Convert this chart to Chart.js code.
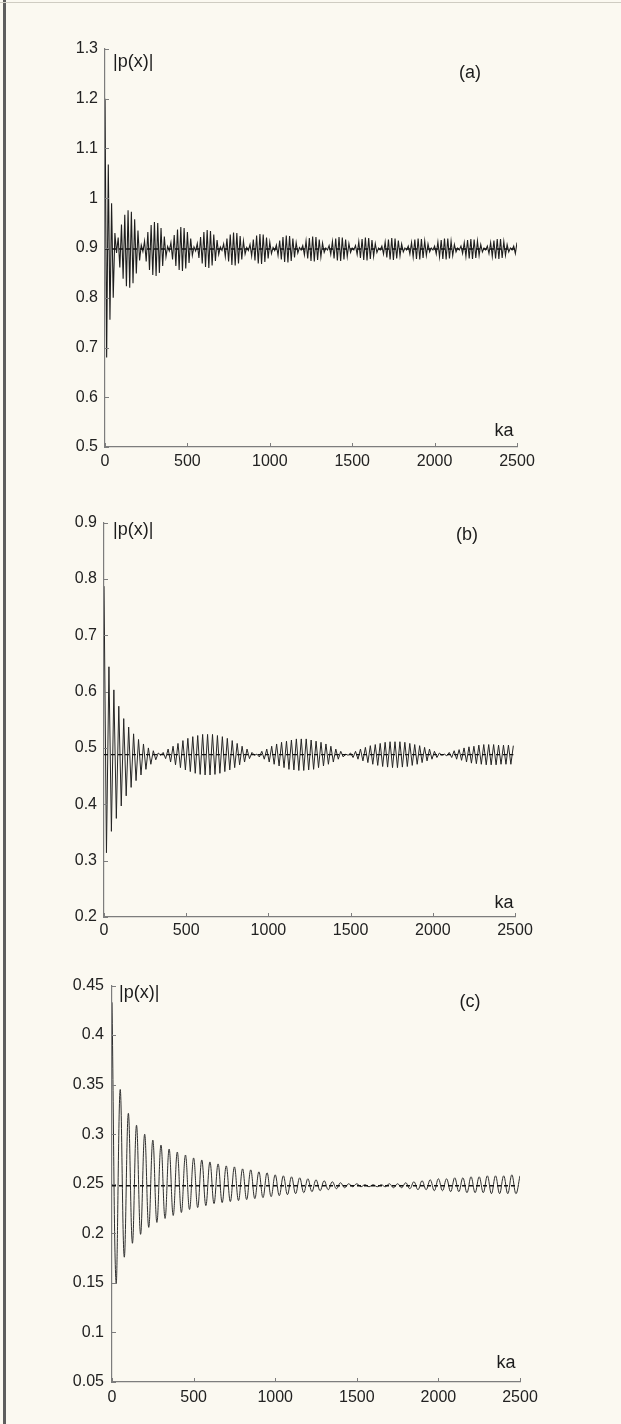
<!DOCTYPE html>
<html><head><meta charset="utf-8">
<script src="https://cdn.jsdelivr.net/npm/chart.js@4.4.1/dist/chart.umd.min.js"></script>
<style>
html,body{margin:0;padding:0;background:#fbf9f1;}
#page{position:relative;width:621px;height:1424px;overflow:hidden;background:#fbf9f1;}
canvas{position:absolute;left:0;}
#edge{position:absolute;left:3px;top:0;width:3px;height:1424px;background:#5e5e5e;}
#topline{position:absolute;left:0;top:2px;width:621px;height:1px;background:#cfccc2;}
</style></head><body>
<div id="page">
<div id="edge"></div><div id="topline"></div>
<canvas id="ca" width="621" height="481" style="top:0;width:621px;height:481px"></canvas>
<canvas id="cb" width="621" height="470" style="top:481px;width:621px;height:470px"></canvas>
<canvas id="cc" width="621" height="465" style="top:951px;width:621px;height:465px"></canvas>
</div>
<script>
// ---- data ----
const xTicks = [0, 500, 1000, 1500, 2000, 2500];
const yTicksA = [0.5, 0.6, 0.7, 0.8, 0.9, 1, 1.1, 1.2, 1.3];
const yTicksB = [0.2, 0.3, 0.4, 0.5, 0.6, 0.7, 0.8, 0.9];
const yTicksC = [0.05, 0.1, 0.15, 0.2, 0.25, 0.3, 0.35, 0.4, 0.45];
const panelTags = ['(a)', '(b)', '(c)'];

// sample spacing in ka for each curve
const kaStepA = 10, kaStepB = 15, kaStepC = 25;
// dashed asymptotic levels
const meanA = 0.898, meanB = 0.488, meanC = 0.248;
const meanEndKa = 2490;

// (a) alternating extremes
const pA = [
1.200,0.680,1.068,0.756,0.990,0.800,0.930,
0.890,0.921,0.861,0.947,0.838,0.967,0.823,0.976,0.820,0.973,0.829,0.958,0.849,0.935,0.875,0.906,
0.893,0.914,0.873,0.932,0.856,0.946,0.846,0.952,0.844,0.950,0.850,0.940,0.864,0.923,0.882,0.903,
0.894,0.911,0.877,0.926,0.864,0.937,0.856,0.942,0.854,0.940,0.859,0.932,0.870,0.919,0.885,0.902,
0.894,0.909,0.880,0.922,0.869,0.932,0.862,0.936,0.860,0.934,0.865,0.927,0.874,0.916,0.887,0.902,
0.895,0.908,0.883,0.919,0.873,0.927,0.866,0.931,0.865,0.930,0.869,0.924,0.877,0.914,0.888,0.901,
0.895,0.907,0.884,0.917,0.875,0.925,0.869,0.928,0.868,0.927,0.872,0.921,0.879,0.912,0.889,0.901,
0.895,0.906,0.885,0.915,0.877,0.922,0.872,0.925,0.871,0.924,0.874,0.919,0.881,0.911,0.890,0.901,
0.896,0.905,0.886,0.914,0.879,0.920,0.874,0.923,0.873,0.922,0.876,0.917,0.882,0.910,0.891,0.900,
0.896,0.905,0.887,0.913,0.879,0.919,0.875,0.922,0.874,0.921,0.877,0.917,0.883,0.909,0.891,0.900,
0.896,0.905,0.887,0.913,0.880,0.918,0.876,0.921,0.875,0.920,0.878,0.916,0.883,0.909,0.891,0.900,
0.896,0.904,0.888,0.912,0.881,0.917,0.877,0.920,0.876,0.919,0.879,0.915,0.884,0.908,0.892,0.900,
0.896,0.904,0.888,0.911,0.882,0.917,0.878,0.919,0.877,0.918,0.880,0.914,0.885,0.908,0.892,0.900,
0.896,0.904,0.888,0.912,0.882,0.916,0.878,0.919,0.877,0.919,0.879,0.914,0.885,0.907,0.892,0.900,
0.896,0.904,0.889,0.911,0.883,0.916,0.879,0.918,0.878,0.917,0.880,0.914,0.885,0.907,0.892,0.900,
0.896,0.904,0.889,0.911,0.883,0.915,0.879,0.918,0.878,0.918,0.880,0.913,0.885,0.907,0.892,0.900,
0.896,0.904,0.889,0.911
];

// (b) alternating extremes
const pB = [
0.787,0.314,0.644,0.352,0.603,0.375,0.574,0.397,0.552,0.415,0.537,0.430,0.525,0.442,0.515,0.452,0.507,0.462,0.500,0.471,0.495,0.479,0.491,
0.487,0.492,0.481,0.498,0.475,0.503,0.470,0.508,0.465,0.513,0.461,0.517,0.458,0.520,0.455,0.522,0.453,0.524,0.452,0.524,0.452,0.524,0.453,0.522,0.455,0.520,0.458,0.517,0.461,0.513,0.465,0.508,0.470,0.503,0.475,0.498,0.481,0.492,0.487,
0.489,0.484,0.494,0.480,0.498,0.475,0.503,0.471,0.507,0.468,0.510,0.465,0.512,0.462,0.514,0.461,0.516,0.460,0.516,0.460,0.516,0.461,0.514,0.462,0.512,0.465,0.510,0.468,0.507,0.471,0.503,0.475,0.498,0.480,0.494,0.484,0.489,
0.487,0.491,0.483,0.494,0.480,0.498,0.477,0.501,0.474,0.504,0.471,0.506,0.469,0.508,0.467,0.510,0.466,0.511,0.465,0.511,0.465,0.511,0.466,0.510,0.467,0.508,0.469,0.506,0.471,0.504,0.474,0.501,0.477,0.498,0.480,0.494,0.483,0.491,0.487,
0.489,0.486,0.492,0.483,0.495,0.480,0.497,0.478,0.500,0.475,0.502,0.473,0.503,0.472,0.505,0.471,0.506,0.470,0.506,0.470,0.506,0.470,0.505,0.471,0.505,0.471,0.505,0.471,0.504
];

// (c) maxima and minima of the resolved oscillation
const peaksC = [0.433,0.345,0.321,0.309,0.300,0.294,0.289,0.285,0.282,0.279,0.276,0.274,0.272,0.270,0.268,0.267,0.265,0.264,0.262,0.261,0.259,0.258,0.257,0.256,0.255,0.254,0.253,0.252,0.251,0.250,0.250,0.249,0.249,0.249,0.250,0.250,0.251,0.252,0.253,0.254,0.255,0.255,0.256,0.256,0.257,0.257,0.258,0.258,0.258,0.259,0.258];
const troughsC = [0.150,0.176,0.190,0.199,0.206,0.211,0.215,0.218,0.221,0.224,0.226,0.228,0.230,0.231,0.232,0.233,0.234,0.235,0.236,0.237,0.238,0.239,0.240,0.241,0.242,0.243,0.244,0.245,0.246,0.247,0.247,0.247,0.247,0.247,0.246,0.246,0.245,0.244,0.244,0.243,0.243,0.242,0.242,0.241,0.241,0.241,0.240,0.240,0.240,0.240];

// ---- build ----
const pC = [];
peaksC.forEach((v, k) => { pC.push(v); if (k < troughsC.length) pC.push(troughsC[k]); });

const toPts = (arr, step) => arr.map((v, i) => ({x: i * step, y: v}));
const FONT = '"Liberation Sans", Arial, Helvetica, sans-serif';

const decor = {
  id: 'decor',
  afterDraw(chart, args, o) {
    const {ctx, chartArea: a, scales: {x, y}} = chart;
    ctx.save();
    ctx.strokeStyle = '#7d7d7d'; ctx.lineWidth = 1;
    ctx.beginPath();
    y.ticks.forEach(t => { const py = Math.round(y.getPixelForValue(t.value)) + 0.5; ctx.moveTo(a.left, py); ctx.lineTo(a.left + 4, py); });
    x.ticks.forEach(t => { const px = Math.round(x.getPixelForValue(t.value)) + 0.5; ctx.moveTo(px, a.bottom); ctx.lineTo(px, a.bottom - 4); });
    ctx.stroke();
    ctx.fillStyle = '#1c1c1c';
    ctx.font = '18px ' + FONT;
    ctx.textBaseline = 'middle'; ctx.textAlign = 'left';
    ctx.fillText('|p(x)|', a.left + o.pdx, a.top + o.pdy);
    ctx.textAlign = 'center';
    ctx.fillText(o.tag, a.left + o.tagDx, a.top + o.tagDy);
    ctx.fillText('ka', a.right + o.kaDx, a.bottom + o.kaDy);
    ctx.restore();
  }
};

function panel(id, cfg) {
  const c = document.getElementById(id);
  return new Chart(c, {
    type: 'line',
    data: {
      datasets: [
        {data: [{x: 0, y: cfg.mean}, {x: meanEndKa, y: cfg.mean}], borderColor: '#111', borderWidth: 1.3, borderDash: [4, 3], pointRadius: 0, tension: 0},
        {data: cfg.pts, borderColor: cfg.color, borderWidth: cfg.lw, pointRadius: 0, tension: cfg.tension}
      ]
    },
    options: {
      responsive: false, animation: false, devicePixelRatio: 1,
      layout: {padding: {top: cfg.top, right: 621 - cfg.right, left: 0, bottom: 0}},
      plugins: {legend: {display: false}, tooltip: {enabled: false}, decor: cfg.decor},
      elements: {point: {radius: 0}},
      scales: {
        x: {
          type: 'linear', min: 0, max: 2500,
          afterBuildTicks: s => { s.ticks = xTicks.map(v => ({value: v})); },
          afterFit: s => { s.height = 34; },
          grid: {display: true, drawOnChartArea: false, drawTicks: false},
          border: {display: true, color: '#7d7d7d', width: 1.2},
          ticks: {padding: cfg.xPad, color: '#222', font: {family: FONT, size: 16}, maxRotation: 0, autoSkip: false, callback: v => String(v)}
        },
        y: {
          type: 'linear', min: cfg.yt[0], max: cfg.yt[cfg.yt.length - 1],
          afterBuildTicks: s => { s.ticks = cfg.yt.map(v => ({value: v})); },
          afterFit: s => { s.width = cfg.left; },
          grid: {display: true, drawOnChartArea: false, drawTicks: false},
          border: {display: true, color: '#7d7d7d', width: 1.2},
          ticks: {padding: cfg.yPad, color: '#222', font: {family: FONT, size: 16}, autoSkip: false, callback: v => String(v)}
        }
      }
    },
    plugins: [decor]
  });
}

panel('ca', {pts: toPts(pA, kaStepA), mean: meanA, yt: yTicksA, color: '#1f1f1f', lw: 1.1, tension: 0,
  top: 49, left: 105, right: 517, xPad: 5, yPad: 7,
  decor: {tag: panelTags[0], pdx: 8, pdy: 13, tagDx: 365, tagDy: 24, kaDx: -13, kaDy: -16}});
panel('cb', {pts: toPts(pB, kaStepB), mean: meanB, yt: yTicksB, color: '#262626', lw: 1, tension: 0,
  top: 41.5, left: 104, right: 515, xPad: 4, yPad: 7,
  decor: {tag: panelTags[1], pdx: 9, pdy: 8, tagDx: 363, tagDy: 13, kaDx: -11, kaDy: -14}});
panel('cc', {pts: toPts(pC, kaStepC), mean: meanC, yt: yTicksC, color: '#2e2e2e', lw: 1, tension: 0.4,
  top: 34.5, left: 112, right: 520, xPad: 6, yPad: 8,
  decor: {tag: panelTags[2], pdx: 7, pdy: 8, tagDx: 358, tagDy: 17, kaDx: -14, kaDy: -19}});
</script>
</body></html>
